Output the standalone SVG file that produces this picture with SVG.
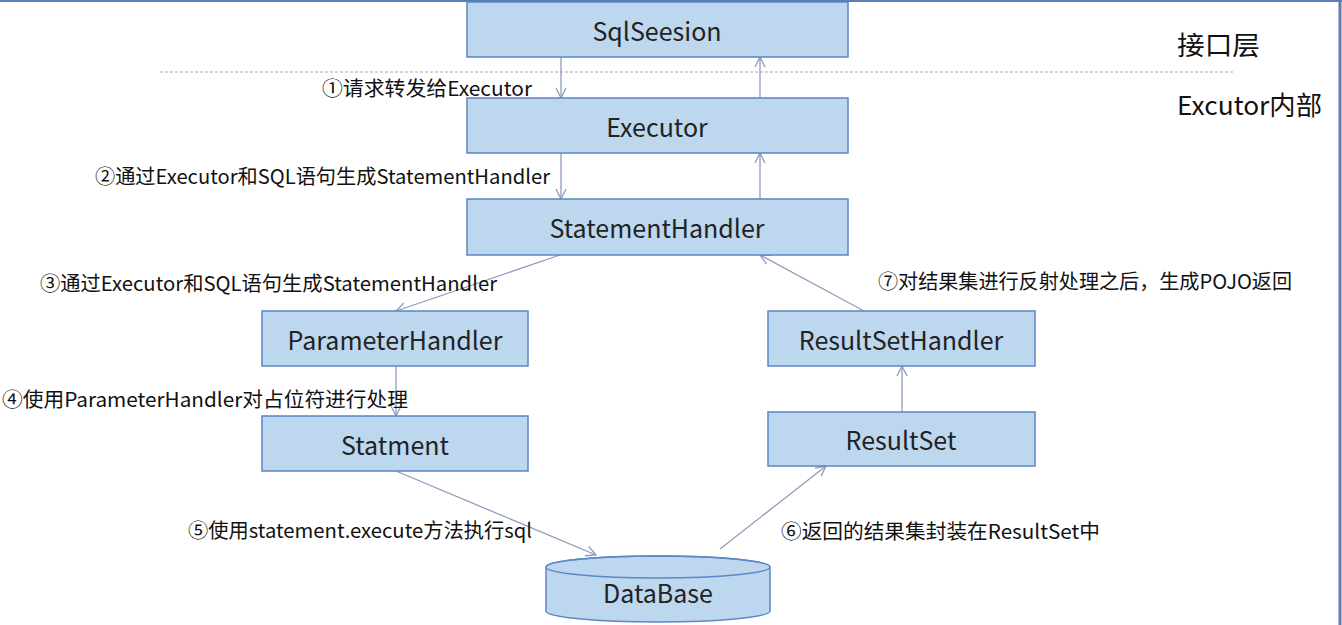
<svg xmlns="http://www.w3.org/2000/svg" width="1342" height="625" viewBox="0 0 1342 625">
<style>
.box{fill:#BDD7EE;stroke:#5B87C5;stroke-width:1.5}
.nt{font-family:"Noto Sans CJK SC","Noto Sans",sans-serif;font-size:25px;fill:#222;text-anchor:middle;dominant-baseline:central}
.lb{font-family:"Noto Sans CJK SC","Noto Sans",sans-serif;font-size:20px;fill:#111}
.side{font-family:"Noto Sans CJK SC","Noto Sans",sans-serif;font-size:26px;fill:#111}
.ln{stroke:#8E9DBB;stroke-width:1.3;fill:none;marker-end:url(#ah)}
</style>
<defs>
<marker id="ah" viewBox="0 0 12 12" refX="11" refY="6" markerWidth="12" markerHeight="12" markerUnits="userSpaceOnUse" orient="auto">
<path d="M1,1 L11,6 L1,11" fill="none" stroke="#8E9DBB" stroke-width="1.3"/>
</marker>
</defs>
<rect width="1342" height="625" fill="#fff"/>
<line x1="0" y1="1" x2="1342" y2="1" stroke="#5B7FB5" stroke-width="2"/>
<line x1="1340" y1="0" x2="1340" y2="625" stroke="#5B7FB5" stroke-width="3"/>
<line x1="160" y1="72" x2="1233" y2="72" stroke="#AAAAAA" stroke-width="1" stroke-dasharray="3,2"/>
<text class="side" x="1177" y="55" textLength="83" lengthAdjust="spacingAndGlyphs">接口层</text>
<text class="side" x="1177" y="115" textLength="145" lengthAdjust="spacingAndGlyphs">Excutor内部</text>
<g id="connectors">
<line class="ln" x1="561" y1="57" x2="561" y2="98"/>
<line class="ln" x1="760" y1="98" x2="760" y2="57"/>
<line class="ln" x1="561" y1="153" x2="561" y2="199"/>
<line class="ln" x1="760" y1="199" x2="760" y2="153"/>
<line class="ln" x1="560" y1="255" x2="396" y2="311"/>
<line class="ln" x1="396" y1="366" x2="396" y2="416"/>
<line class="ln" x1="396" y1="471" x2="596" y2="555"/>
<line class="ln" x1="720" y1="549" x2="826" y2="466"/>
<line class="ln" x1="902" y1="412" x2="902" y2="366"/>
<line class="ln" x1="864" y1="311" x2="760" y2="255"/>
<text class="lb" x="322" y="96" textLength="210" lengthAdjust="spacingAndGlyphs">①请求转发给Executor</text>
<text class="lb" x="95" y="184" textLength="455" lengthAdjust="spacingAndGlyphs">②通过Executor和SQL语句生成StatementHandler</text>
<text class="lb" x="40" y="291" textLength="457" lengthAdjust="spacingAndGlyphs">③通过Executor和SQL语句生成StatementHandler</text>
<text class="lb" x="2" y="407" textLength="406" lengthAdjust="spacingAndGlyphs">④使用ParameterHandler对占位符进行处理</text>
<text class="lb" x="188" y="538" textLength="344" lengthAdjust="spacingAndGlyphs">⑤使用statement.execute方法执行sql</text>
<text class="lb" x="781" y="539" textLength="319" lengthAdjust="spacingAndGlyphs">⑥返回的结果集封装在ResultSet中</text>
<text class="lb" x="878" y="289" textLength="414" lengthAdjust="spacingAndGlyphs">⑦对结果集进行反射处理之后，生成POJO返回</text>
</g>
<g id="sqlsession"><rect class="box" x="467" y="2" width="381" height="55"/><text class="nt" x="657" y="30">SqlSeesion</text></g>
<g id="executor"><rect class="box" x="467" y="98" width="381" height="55"/><text class="nt" x="657" y="126">Executor</text></g>
<g id="statementhandler"><rect class="box" x="467" y="199" width="381" height="56"/><text class="nt" x="657" y="227">StatementHandler</text></g>
<g id="parameterhandler"><rect class="box" x="262" y="311" width="266" height="55"/><text class="nt" x="395" y="339">ParameterHandler</text></g>
<g id="resultsethandler"><rect class="box" x="768" y="311" width="267" height="55"/><text class="nt" x="901" y="339">ResultSetHandler</text></g>
<g id="statment"><rect class="box" x="262" y="416" width="266" height="55"/><text class="nt" x="395" y="444">Statment</text></g>
<g id="resultset"><rect class="box" x="768" y="412" width="267" height="54"/><text class="nt" x="901" y="439">ResultSet</text></g>
<g id="database">
<path class="box" d="M546,567 L546,611 A112,11 0 0 0 770,611 L770,567 A112,11 0 0 0 546,567 Z"/>
<ellipse cx="658" cy="567" rx="112" ry="11" fill="none" stroke="#5B87C5" stroke-width="1.5"/>
<text class="nt" x="658" y="592">DataBase</text>
</g>
</svg>
